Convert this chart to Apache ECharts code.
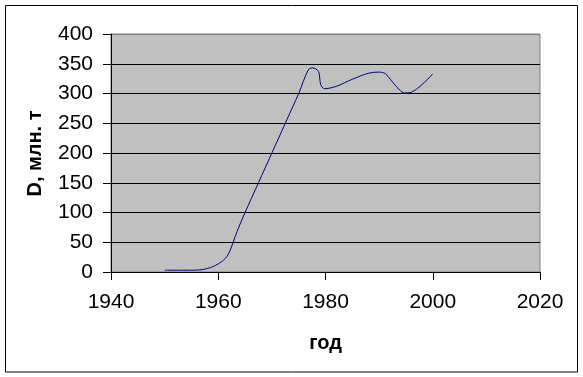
<!DOCTYPE html>
<html>
<head>
<meta charset="utf-8">
<script src="https://cdn.jsdelivr.net/npm/echarts@6/dist/echarts.min.js"></script>
<style>
html,body{margin:0;padding:0;background:#fff;}
#c{width:583px;height:377px;}
</style>
</head>
<body>
<div id="c"></div>
<script>
const years = [1950, 1955, 1957, 1959, 1961, 1962, 1963.5, 1965, 1967.5, 1970, 1972.5, 1975, 1976.8, 1977.6, 1978.7, 1979.1, 1979.8, 1982, 1985, 1988, 1990, 1991.2, 1993, 1994.7, 1996, 2000];
const values = [3, 3, 4, 9, 20, 32, 68, 100, 150, 200, 250, 300, 340, 343, 337, 315, 308, 312, 324, 334, 336, 333, 314, 301, 302, 333];
const xTicks = [1940, 1960, 1980, 2000, 2020];
const yTicks = [0, 50, 100, 150, 200, 250, 300, 350, 400];
const xTitle = 'год';
const yTitle = 'D, млн. т';

const font = 'Arial, "Liberation Sans", sans-serif';
const chart = echarts.init(document.getElementById('c'), null, {renderer: 'canvas'});
const gridColors = yTicks.map((v, i) => i === yTicks.length - 1 ? '#808080' : '#000000');
chart.setOption({
  animation: false,
  backgroundColor: '#ffffff',
  grid: {left: 111, top: 34, width: 429, height: 238, show: true, backgroundColor: '#c0c0c0', borderColor: '#808080', borderWidth: 1},
  xAxis: {
    type: 'value', min: xTicks[0], max: xTicks[xTicks.length - 1], interval: 20,
    axisLine: {show: true, lineStyle: {color: '#000', width: 1}},
    axisTick: {show: true, length: 8, inside: false, lineStyle: {color: '#000'}},
    axisLabel: {fontFamily: font, fontSize: 21, color: '#000', margin: 20, formatter: v => String(v)},
    splitLine: {show: false}
  },
  yAxis: {
    type: 'value', min: yTicks[0], max: yTicks[yTicks.length - 1], interval: 50,
    axisLine: {show: true, lineStyle: {color: '#000', width: 1}},
    axisTick: {show: true, length: 8, inside: false, lineStyle: {color: '#000'}},
    axisLabel: {fontFamily: font, fontSize: 21, color: '#000', margin: 18, formatter: v => String(v)},
    splitLine: {show: true, lineStyle: {color: gridColors, width: 1}}
  },
  graphic: [
    {type: 'rect', shape: {x: 5.5, y: 5.5, width: 572, height: 366.5}, style: {fill: null, stroke: '#000', lineWidth: 1}, silent: true, z: -1},
    {type: 'text', x: 325.5, y: 343, style: {text: xTitle, font: 'bold 20px ' + font, fill: '#000', textAlign: 'center', textVerticalAlign: 'middle'}},
    {type: 'text', x: 35, y: 153.5, rotation: Math.PI / 2, style: {text: yTitle, font: 'bold 20px ' + font, fill: '#000', textAlign: 'center', textVerticalAlign: 'middle'}}
  ],
  series: [{
    type: 'line',
    data: years.map((y, i) => [y, values[i]]),
    smooth: 0.3,
    showSymbol: false,
    lineStyle: {color: '#000080', width: 1}
  }]
});
</script>
</body>
</html>
